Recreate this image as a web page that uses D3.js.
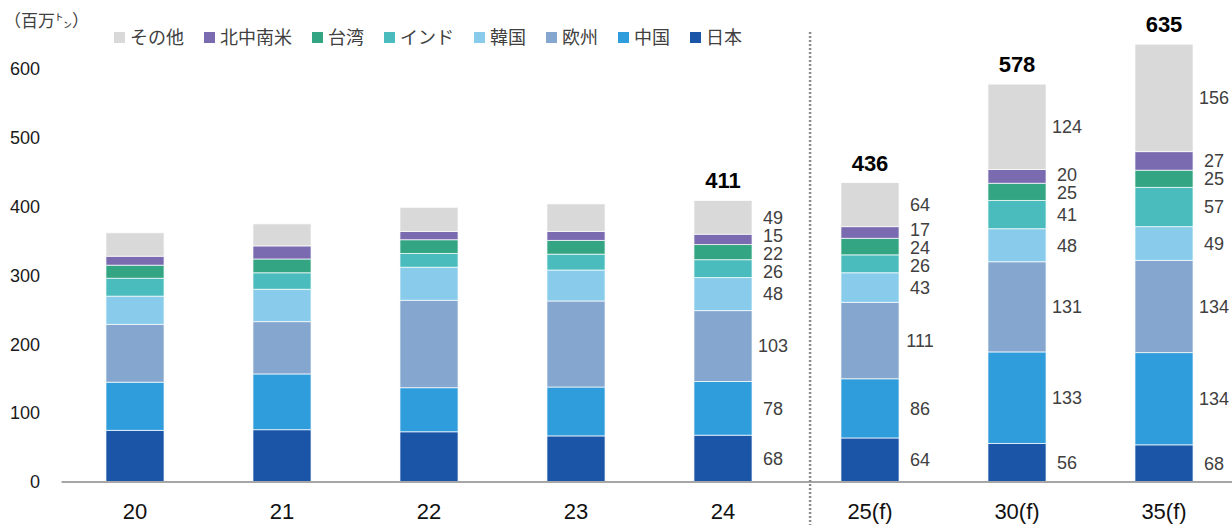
<!DOCTYPE html>
<html>
<head>
<meta charset="utf-8">
<script src="https://d3js.org/d3.v7.min.js"></script>
<style>
  body { margin: 0; background: #fff; }
  text { font-family: "Liberation Sans", Arial, "Noto Sans CJK JP", sans-serif; }
</style>
</head>
<body>
<div id="chart"></div>
<script>
// categories (years, f = forecast)
var years = ["20", "21", "22", "23", "24", "25(f)", "30(f)", "35(f)"];

// series values, million tons (bottom to top of the stack)
var japan    = [75, 76, 73, 67, 68, 64, 56, 54];
var china    = [70, 81, 64, 71, 78, 86, 133, 134];
var europe   = [84, 76, 127, 125, 103, 111, 131, 134];
var korea    = [41, 47, 48, 45, 48, 43, 48, 49];
var india    = [26, 24, 20, 23, 26, 26, 41, 57];
var taiwan   = [19, 20, 20, 20, 22, 24, 25, 25];
var americas = [13, 19, 12, 13, 15, 17, 20, 27];
var others   = [34, 32, 35, 40, 49, 64, 124, 156];

// printed labels (same stack order), only for the last four columns
var labels24  = ["68", "78", "103", "48", "26", "22", "15", "49"];
var labels25f = ["64", "86", "111", "43", "26", "24", "17", "64"];
var labels30f = ["56", "133", "131", "48", "41", "25", "20", "124"];
var labels35f = ["68", "134", "134", "49", "57", "25", "27", "156"];
var totals = [null, null, null, null, 411, 436, 578, 635];

var yTicks = [0, 100, 200, 300, 400, 500, 600];

var seriesNames = ["日本", "中国", "欧州", "韓国", "インド", "台湾", "北中南米", "その他"];
var seriesColors = ["#1a55a8", "#2f9cdb", "#84a6cf", "#88cbeb", "#4bbcbe", "#33a582", "#7a6bb0", "#d9d9d9"];

var width = 1232, height = 525;

var svg = d3.select("#chart").append("svg")
    .attr("width", width)
    .attr("height", height);

// build table for the stack
var seriesData = [japan, china, europe, korea, india, taiwan, americas, others];
var table = years.map(function(yr, i) {
  var row = {year: yr};
  seriesNames.forEach(function(n, k) { row[n] = seriesData[k][i]; });
  return row;
});
var labelTable = {"24": labels24, "25(f)": labels25f, "30(f)": labels30f, "35(f)": labels35f};

var stack = d3.stack().keys(seriesNames);
var stacked = stack(table);

var x = d3.scaleBand()
    .domain(years)
    .range([61.5, 1237.5])
    .paddingInner(0.605)
    .paddingOuter(0.3025);

var y = d3.scaleLinear()
    .domain([0, 600])
    .range([482, 69]);

var color = d3.scaleOrdinal().domain(seriesNames).range(seriesColors);

// y tick labels (no axis line)
svg.append("g").selectAll("text")
    .data(yTicks)
  .enter().append("text")
    .attr("x", 40)
    .attr("y", function(d) { return y(d); })
    .attr("dy", "0.35em")
    .attr("text-anchor", "end")
    .style("font-size", "18px")
    .style("fill", "#1a1a1a")
    .text(function(d) { return d; });

// unit label
svg.append("text")
    .attr("x", 4)
    .attr("y", 27)
    .style("font-size", "17px")
    .style("fill", "#404040")
    .style("font-family", "'Noto Sans CJK JP', sans-serif")
    .text("（百万㌧）");

// bars
svg.append("g").selectAll("g")
    .data(stacked)
  .enter().append("g")
    .attr("fill", function(d) { return color(d.key); })
  .selectAll("rect")
    .data(function(d) { return d; })
  .enter().append("rect")
    .attr("x", function(d) { return x(d.data.year); })
    .attr("y", function(d) { return y(d[1]); })
    .attr("width", x.bandwidth())
    .attr("height", function(d) { return y(d[0]) - y(d[1]); })
    .attr("stroke", "rgba(255,255,255,0.7)")
    .attr("stroke-width", 1);

// x axis baseline
svg.append("line")
    .attr("x1", x.range()[0])
    .attr("x2", width)
    .attr("y1", y(0))
    .attr("y2", y(0))
    .attr("stroke", "#a6a6a6")
    .attr("stroke-width", 2);

// x labels
svg.append("g").selectAll("text")
    .data(years)
  .enter().append("text")
    .attr("x", function(d) { return x(d) + x.bandwidth() / 2; })
    .attr("y", 519)
    .attr("text-anchor", "middle")
    .style("font-size", "22px")
    .style("fill", "#111")
    .text(function(d) { return d; });

// dotted divider between actual and forecast
var divX = x("25(f)") - x.step() * 0.21;
svg.append("line")
    .attr("x1", divX).attr("x2", divX)
    .attr("y1", 32).attr("y2", height)
    .attr("stroke", "#8c8c8c")
    .attr("stroke-width", 2.5)
    .attr("stroke-dasharray", "2,2");

// segment value labels, spread apart when segments are thin
function spread(items, gap) {
  for (var it = 0; it < 100; it++) {
    var moved = false;
    for (var i = 0; i < items.length - 1; i++) {
      var a = items[i], b = items[i + 1]; // a is lower (larger y)
      var d = a.y - b.y;
      if (d < gap) {
        var push = (gap - d) / 2;
        a.y += push; b.y -= push;
        moved = true;
      }
    }
    if (!moved) break;
  }
  return items;
}

var labelG = svg.append("g");
years.forEach(function(yr, i) {
  var labs = labelTable[yr];
  if (!labs) return;
  var items = stacked.map(function(s, k) {
    return {y: y((s[i][0] + s[i][1]) / 2), text: labs[k]};
  });
  spread(items, 18);
  labelG.selectAll(null)
      .data(items)
    .enter().append("text")
      .attr("x", x(yr) + x.bandwidth() + 21)
      .attr("y", function(d) { return d.y; })
      .attr("dy", "0.35em")
      .attr("text-anchor", "middle")
      .style("font-size", "18px")
      .style("fill", "#404040")
      .text(function(d) { return d.text; });
});

// totals on top
svg.append("g").selectAll("text")
    .data(years.filter(function(d, i) { return totals[i] != null; }))
  .enter().append("text")
    .attr("x", function(d) { return x(d) + x.bandwidth() / 2; })
    .attr("y", function(d) {
      var i = years.indexOf(d);
      return y(stacked[stacked.length - 1][i][1]) - 12;
    })
    .attr("text-anchor", "middle")
    .style("font-size", "22px")
    .style("font-weight", "bold")
    .style("fill", "#000")
    .text(function(d) { return totals[years.indexOf(d)]; });

// legend (reverse order: top of stack first)
var legend = svg.append("g");
var lx = 114;
seriesNames.slice().reverse().forEach(function(name) {
  legend.append("rect")
      .attr("x", lx)
      .attr("y", 32)
      .attr("width", 11)
      .attr("height", 11)
      .attr("fill", color(name));
  var t = legend.append("text")
      .attr("x", lx + 16)
      .attr("y", 37.5)
      .attr("dy", "0.35em")
      .style("font-size", "18px")
      .style("fill", "#404040")
      .style("font-family", "'Noto Sans CJK JP', sans-serif")
      .text(name);
  lx += 16 + t.node().getComputedTextLength() + 20;
});
</script>
</body>
</html>
